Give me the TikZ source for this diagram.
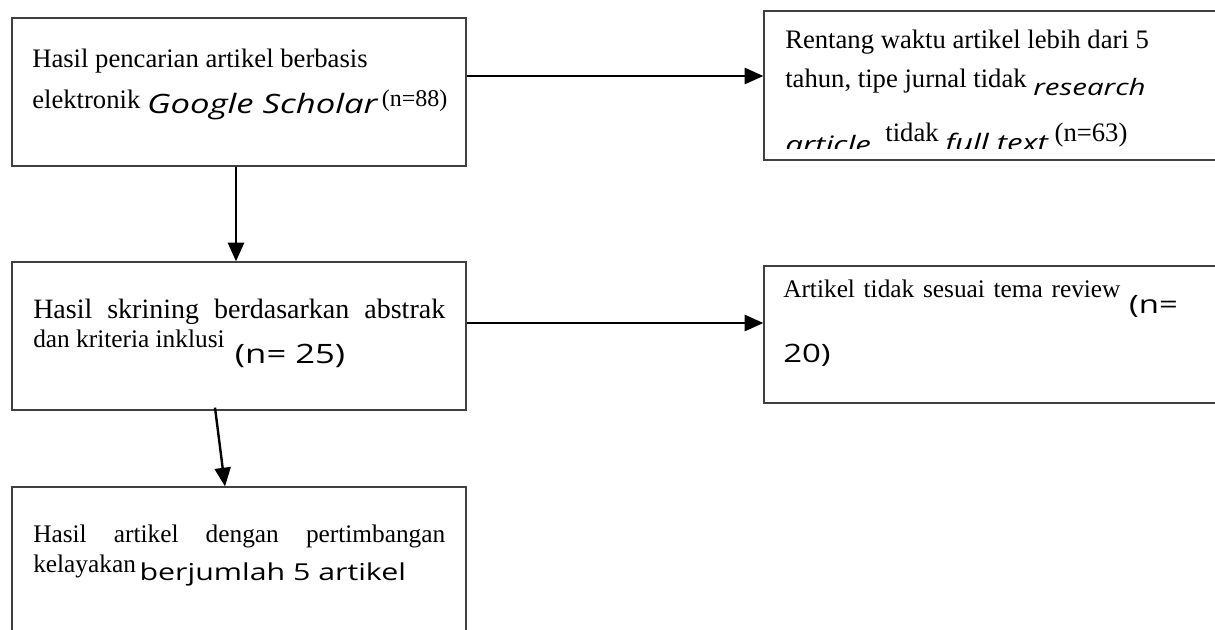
\documentclass[tikz,border=0pt]{standalone}
\usepackage{fontspec}
\setmainfont{Liberation Serif}
\newfontfamily\hand[FakeStretch=1.3]{Open Sans}
\usetikzlibrary{arrows.meta,calc}

\newcommand{\hw}[1][17]{\hand\fontsize{#1}{#1}\selectfont}

\tikzset{
	box/.style={draw={rgb, 255:red, 64; green, 64; blue, 64}, line width=0.9pt, inner sep=0pt},
	txt/.style={anchor=base west, inner sep=0pt, font=\fontsize{20}{24}\selectfont},
	arr/.style={line width=1.8pt, -{Triangle[length=14pt,width=12pt]}}}

\begin{document}
\begin{tikzpicture}[x=0.75pt,y=0.75pt,yscale=-1,xscale=1]
	\useasboundingbox (0,0) rectangle (1215,629);
	\clip (0,0) rectangle (1215,629);

	%Shape: Rectangle [pencarian]
	\node[box, minimum width=340.5pt, minimum height=111pt] (cari) at (239,92) {};
	%Shape: Rectangle [rentang waktu]
	\node[box, minimum width=349.5pt, minimum height=111.75pt] (rentang) at (997,85.5) {};
	%Shape: Rectangle [skrining]
	\node[box, minimum width=340.5pt, minimum height=111pt] (skrining) at (239,336) {};
	%Shape: Rectangle [tidak sesuai tema]
	\node[box, minimum width=349.5pt, minimum height=102.75pt] (tema) at (997,334.5) {};
	%Shape: Rectangle [kelayakan]
	\node[box, minimum width=340.5pt, minimum height=114.75pt] (layak) at (239,563.5) {};

	%Arrows
	\draw[arr] ($(cari.east)+(0,-16)$) coordinate (a1) -- (a1 -| rentang.west);
	\draw[arr] ($(skrining.east)+(0,-13)$) coordinate (a2) -- (a2 -| tema.west);
	\draw[arr] ($(cari.south)+(-3,0)$) coordinate (a3) -- (a3 |- skrining.north);
	\draw[arr] ($(skrining.south)+(-24,-3)$) -- ($(layak.north)+(-14,0)$);

	% Text Node
	\node[txt] (cari-a) at (32,67) {Hasil pencarian artikel berbasis};
	% Text Node
	\node[txt] (cari-b) at (32,108) {elektronik \raisebox{-4pt}{\hw[20]\itshape Google Scholar}\,\raisebox{1pt}{\fontsize{18}{18}\selectfont(n=88)}};

	% Text Node
	\node[txt] (rentang-a) at (785,48) {Rentang waktu artikel lebih dari 5};
	% Text Node
	\node[txt] (rentang-b) at (785,87) {tahun, tipe jurnal tidak \raisebox{-6pt}{\hw\itshape research}};
	\begin{scope}
		\clip (rentang.north west) rectangle ($(rentang.south east)+(0,-12)$);
		% Text Node
		\node[txt] (rentang-c) at (785,141) {\raisebox{-9pt}{\hw[18]\itshape article,} tidak \raisebox{-8pt}{\hw[18]\itshape full text} (n=63)};
	\end{scope}

	% Text Node
	\node[txt, font=\fontsize{21}{24}\selectfont] (skrining-a) at (33,318) {\makebox[309pt][s]{Hasil skrining berdasarkan abstrak}};
	% Text Node
	\node[txt, font=\fontsize{19}{22}\selectfont] (skrining-b) at (33,347) {dan kriteria inklusi\hspace{3pt} \raisebox{-12pt}{\hw[20](n= 25)}};

	% Text Node
	\node[txt, font=\fontsize{19}{22}\selectfont] (tema-a) at (783,297) {\makebox[296pt][s]{Artikel tidak sesuai tema review \raisebox{-12pt}{\hw[19](n=}}};
	% Text Node
	\node[txt] (tema-b) at (783,362) {\hw[19]20)};

	% Text Node
	\node[txt, font=\fontsize{19}{22}\selectfont] (layak-a) at (33,542) {\makebox[309pt][s]{Hasil artikel dengan pertimbangan}};
	% Text Node
	\node[txt, font=\fontsize{19}{22}\selectfont] (layak-b) at (33,572) {kelayakan\hspace{-2pt} \raisebox{-6pt}{\hw[17.5]berjumlah 5 artikel}};

\end{tikzpicture}
\end{document}
